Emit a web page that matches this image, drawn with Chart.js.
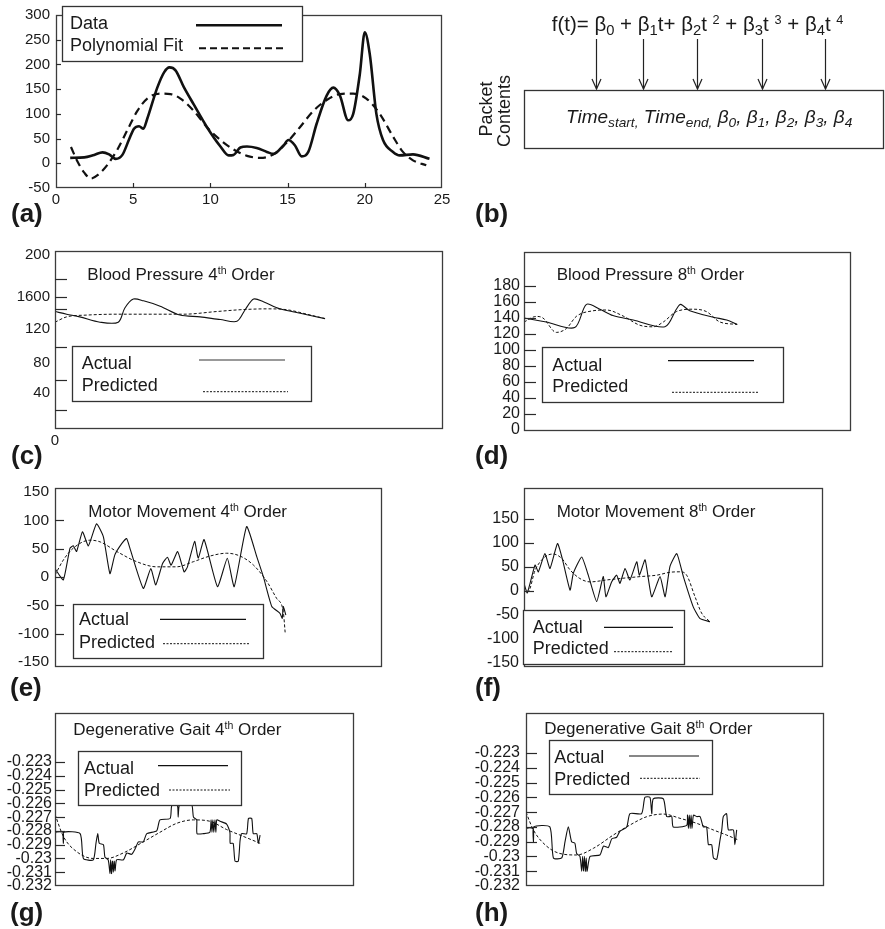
<!DOCTYPE html>
<html><head><meta charset="utf-8">
<script src="https://cdn.jsdelivr.net/npm/chart.js@4.4.1/dist/chart.umd.min.js"></script>
<style>
html,body{margin:0;padding:0;background:#fff;}
#root{position:relative;width:885px;height:929px;overflow:hidden;background:#fff;}
.t{position:absolute;white-space:nowrap;color:#1a1a1a;font-family:'Liberation Sans',Arial,Helvetica,sans-serif;}
.sup{font-size:0.62em;position:relative;top:-0.55em;}
.sub{font-size:0.72em;position:relative;top:0.28em;}
svg{position:absolute;left:0;top:0;}
canvas{position:absolute;}
</style></head><body><div id="root"></div>
<script>
// ---------------- DATA ----------------
// (a) Data vs polynomial fit
const aDataX = [0.92,1.83,2.47,3.01,3.44,3.87,4.3,4.73,5.05,5.38,5.66,5.91,6.56,7.0,7.35,7.74,8.28,8.92,9.78,10.65,11.18,11.5,11.94,12.37,13.0,13.66,14.09,14.73,15.05,15.48,15.91,16.34,16.88,17.53,17.96,18.39,18.92,19.25,19.68,20.0,20.32,20.75,21.18,21.83,22.26,23.12,24.19];
const aDataY = [11,12,17,22,18,9,17,48,70,75,70,90,153,184,194,188,154,119,73,34,16,17,32,34,31,23,19,36,47,36,14,23,80,137,153,137,87,100,181,265,221,100,47,23,16,18,9];
const aFitX = [0.97,1.4,1.83,2.26,2.69,3.33,3.98,4.62,5.27,5.91,6.77,7.42,8.06,8.92,9.78,10.65,11.5,12.37,13.23,14.09,14.95,15.8,16.67,17.53,18.39,19.25,20.1,20.97,21.83,22.47,23.12,23.98];
const aFitY = [33,3,-19,-31,-24,-3,28,67,106,131,141,140,131,106,73,47,28,15,11,18,42,73,106,128,140,141,131,100,54,23,6,-4];
const aXTicks = [0,5,10,15,20,25];
const aYTicks = [-50,0,50,100,150,200,250,300];

// (c) Blood pressure 4th order
const cActX = [0,3,6.4,11.6,16.3,18,20.2,22.8,27.1,32.2,37.4,42.6,46.9,49,51.2,53.7,58,63.2,69.6];
const cActY = [132,129,126,120,120,136,146,144,138,128,126,123,121,134,146,143,135,130,124];
const cPredX = [0,3,8.2,15.9,24.5,33.1,41.7,47.7,54.6,59.8,64.9,69.6];
const cPredY = [120,126,128,129,129,129,132,134,135,134,129,124];
const cYTickLabels = ["200","1600","120","80","40"];
const cYTickAt = [195.5,148.3,112.4,74.2,40.4];
const cXTickLabels = ["0"];
const cXTickAt = [0];

// (d) Blood pressure 8th order
const dActX = [0,6.8,15.5,19.1,23.2,27.2,33.4,43.1,46.6,47.9,50.7,57.9,62,65.2];
const dActY = [140,135,128,157,151,143,137.5,129,151,157,149,141,137.5,132];
const dPredX = [0,3.8,5.8,9.9,13,16,21.1,25.2,30.3,35.4,39.5,42.6,46.6,51.7,55.8,59.9,65.2];
const dPredY = [135,142,140,122,127,142,149,150,142.5,131,129,135,148,151,148,135,132];
const dYTicks = [0,20,40,60,80,100,120,140,160,180];

// (e) Motor movement 4th order
const eActX = [0,2.55,4.59,5.6,6.6,8.4,10.2,12.7,14.8,16.8,18.3,20.4,21.9,22.9,27.0,29.3,30.8,32.9,34.4,35.5,37.5,39.5,40.5,42.7,43.8,45.6,49.7,52.7,54.8,58.6,61.7,63.7,66.3,68.8,69.5,69.8,70.6];
const eActY = [15,-5,51,55,45,80,55,94,71,6,39,59,68,51,-20,15,-14,24,35,21,45,9,18,63,33,66,-17,33,-17,89,36,1,-52,-64,-73,-52,-67];
const ePredX = [0,2.55,5.6,10.7,13.8,18.9,25,31.1,37.2,42.3,47.4,52.5,56.6,60.7,64.8,67.8,69.8,70.4];
const ePredY = [3.5,30,51,65,62,45,27,18,18,27,37,42,37,21,-8,-38,-61,-99];
const eYTicks = [-150,-100,-50,0,50,100,150];

// (f) Motor movement 8th order
const fActX = [0,1.1,3.7,4.8,7.0,8.7,11.2,12.9,15.4,16.5,19.3,21.5,24.3,26.5,27.4,29.3,31.0,32.1,33.8,35.4,37.7,38.6,40.5,42.7,45.5,47.2,48.8,51.1,53.3,56.6,58.8,62.2];
const fActY = [16,-4,54,40,78,47,99,65,2,37,71,33,-22,30,-12,19,33,16,47,23,61,33,65,-12,30,-12,51,78,30,-33,-57,-64];
const fPredX = [0,1.4,3.7,7.0,9.8,12.6,15.4,18.7,22.1,27.6,32.1,38.8,44.4,48.8,52.2,54.4,57.2,59.4,62.2];
const fPredY = [9,-1,43,71,77,68,44,26,19,23,26,30,33,39,40,33,-12,-46,-64];
const fYTicks = [-150,-100,-50,0,50,100,150];

// (g) Degenerative gait 4th order
const gActX = [0,0.3,2.7,2.8,2.9,8.4,9.5,12.8,13.7,14.3,14.8,16.2,16.7,17.8,18.4,18.6,18.9,19.2,19.5,19.8,20.1,20.6,22.9,24.0,25.6,26.8,27.9,29.5,30.7,34.0,35.1,38.5,39.0,40.1,41.0,41.2,41.5,42.4,45.7,46.3,47.4,47.5,49.6,51.8,52.2,52.5,52.8,53.1,53.5,53.8,54.1,55.2,57.4,58.5,58.6,59.6,60.2,61.3,61.9,62.4,64.1,64.7,65.8,66.3,67.5,68.0,68.6];
const gActY = [-0.2289,-0.2281,-0.2281,-0.2289,-0.2281,-0.2282,-0.2300,-0.2301,-0.2289,-0.2282,-0.2289,-0.2290,-0.2299,-0.2301,-0.2311,-0.2301,-0.2311,-0.2302,-0.2310,-0.2302,-0.2309,-0.2301,-0.2301,-0.2296,-0.2297,-0.2293,-0.2288,-0.2288,-0.2282,-0.2280,-0.2272,-0.2271,-0.2262,-0.2261,-0.2262,-0.2270,-0.2262,-0.2261,-0.2261,-0.2270,-0.2272,-0.2282,-0.2282,-0.2281,-0.2272,-0.2281,-0.2272,-0.2281,-0.2272,-0.2281,-0.2272,-0.2273,-0.2275,-0.2281,-0.2289,-0.2289,-0.2302,-0.2302,-0.2287,-0.2282,-0.2282,-0.2271,-0.2271,-0.2282,-0.2282,-0.2289,-0.2283];
const gPredX = [0,2.8,7.2,12.8,17.3,22.85,29.5,35.1,40.7,46.3,51.8,57.4,63,68.6];
const gPredY = [-0.2268,-0.2284,-0.2295,-0.2300,-0.2300,-0.2296,-0.2288,-0.2281,-0.22745,-0.2272,-0.2273,-0.2279,-0.2284,-0.2289];
const gaitTickLabels = ["-0.223","-0.224","-0.225","-0.226","-0.227","-0.228","-0.229","-0.23","-0.231","-0.232"];
const gaitTickAt = [-0.223,-0.224,-0.225,-0.226,-0.227,-0.228,-0.229,-0.230,-0.231,-0.232];

// (h) Degenerative gait 8th order
const hActX = [0,0.2,2.4,2.5,2.6,8.0,9.2,12.0,13.1,14.2,15.3,16.4,17.0,18.1,18.7,19.0,19.3,19.6,19.9,20.2,20.5,21.5,24.8,26.0,27.6,28.8,30.4,31.5,33.8,34.9,38.8,39.9,41.6,42.2,42.7,46.1,47.2,48.9,49.4,53.9,54.2,54.5,54.8,55.1,55.4,55.7,56.2,57.3,58.4,59.5,60.6,61.2,62.3,62.9,64.0,65.1,65.7,66.2,67.3,67.9,69.6,70.1,70.7];
const hActY = [-0.2290,-0.2281,-0.2281,-0.2290,-0.2280,-0.2280,-0.2301,-0.2301,-0.2290,-0.2280,-0.2290,-0.2291,-0.2298,-0.2300,-0.2310,-0.2300,-0.2310,-0.2300,-0.2310,-0.2301,-0.2310,-0.2300,-0.2299,-0.2293,-0.2294,-0.2288,-0.2287,-0.2283,-0.2280,-0.2271,-0.2271,-0.2260,-0.2260,-0.2271,-0.2261,-0.2261,-0.2273,-0.2273,-0.2280,-0.2279,-0.2272,-0.2281,-0.2272,-0.2281,-0.2272,-0.2281,-0.2272,-0.2273,-0.2273,-0.2280,-0.2280,-0.2292,-0.2292,-0.2301,-0.2302,-0.2289,-0.2282,-0.2273,-0.2271,-0.2282,-0.2282,-0.2292,-0.2282];
const hPredX = [0,2.46,6.9,11.4,17,22.6,29.3,34.9,40.5,46.1,51.7,57.3,62.9,67.3,71.3];
const hPredY = [-0.2270,-0.2282,-0.2293,-0.2298,-0.2299,-0.22945,-0.22855,-0.22787,-0.22731,-0.22713,-0.22742,-0.22776,-0.22821,-0.22855,-0.22889];

// ---------------- RENDER ----------------
const FONT = "'Liberation Sans', Arial, Helvetica, sans-serif";
Chart.defaults.font.family = FONT;
const root = document.getElementById('root');

function pts(xs, ys){ return xs.map((x,i)=>({x:x, y:ys[i]})); }
function solid(xs, ys, w, tension, color){
  return {data:pts(xs,ys), showLine:true, borderColor:color||'#111', borderWidth:w, pointRadius:0, tension:tension, fill:false};
}
function smooth(xs, ys, w, dash){
  return {data:pts(xs,ys), showLine:true, borderColor:'#111', borderWidth:w, pointRadius:0, borderDash:dash||[], cubicInterpolationMode:'monotone', fill:false};
}

function panel(p){
  const cv = document.createElement('canvas');
  cv.width = p.w; cv.height = p.h;
  cv.style.left = p.l+'px'; cv.style.top = p.t+'px';
  cv.style.width = p.w+'px'; cv.style.height = p.h+'px';
  root.appendChild(cv);
  const hasX = !!p.xTickLabels;
  const xH = p.t + p.h - p.fy2;
  const frame = {
    id:'frame'+p.id,
    afterDraw(chart){
      const ctx = chart.ctx, a = chart.chartArea;
      ctx.save();
      ctx.strokeStyle = '#3c3c3c'; ctx.lineWidth = 1.3;
      ctx.strokeRect(Math.round(a.left)+0.5, Math.round(a.top)+0.5, Math.round(a.right-a.left)-1, Math.round(a.bottom-a.top)-1);
      ctx.strokeStyle = '#2a2a2a'; ctx.lineWidth = 1.2;
      const ys = chart.scales.y, xs = chart.scales.x;
      (p.yMarks||[]).forEach(v=>{
        const y = Math.round(ys.getPixelForValue(v))+0.5;
        ctx.beginPath(); ctx.moveTo(a.left, y); ctx.lineTo(a.left+p.markLen, y); ctx.stroke();
      });
      (p.xMarks||[]).forEach(v=>{
        const x = Math.round(xs.getPixelForValue(v))+0.5;
        ctx.beginPath(); ctx.moveTo(x, a.bottom); ctx.lineTo(x, a.bottom-p.markLen); ctx.stroke();
      });
      ctx.restore();
    }
  };
  new Chart(cv, {
    type:'scatter',
    data:{datasets:p.datasets},
    options:{
      responsive:false, animation:false, devicePixelRatio:1, events:[],
      layout:{padding:{left:0, top:p.fy1-p.t, right:p.l+p.w-p.fx2, bottom: hasX ? 0 : xH}},
      plugins:{legend:{display:false}, tooltip:{enabled:false}},
      scales:{
        x:{
          type:'linear', min:p.xMin, max:p.xMax, display:hasX,
          grid:{display:false, drawTicks:false}, border:{display:false},
          afterBuildTicks:(s)=>{ if(hasX) s.ticks = p.xTickAt.map(v=>({value:v})); },
          afterFit:(s)=>{ s.height = hasX ? xH : 0; },
          ticks:{autoSkip:false, maxRotation:0, padding:p.xPad||3, color:'#1a1a1a',
                 font:{size:p.fontSize, family:FONT},
                 callback:(v,i)=> hasX ? p.xTickLabels[i] : ''}
        },
        y:{
          type:'linear', min:p.yMin, max:p.yMax,
          grid:{display:false, drawTicks:false}, border:{display:false},
          afterBuildTicks:(s)=>{ s.ticks = p.yTickAt.map(v=>({value:v})); },
          afterFit:(s)=>{ s.width = p.fx1 - p.l; },
          ticks:{autoSkip:false, padding:p.yPad, color:'#1a1a1a',
                 font:{size:p.fontSize, family:FONT},
                 callback:(v,i)=> p.yTickLabels[i]}
        }
      }
    },
    plugins:[frame]
  });
}

panel({id:'a', l:0, t:0, w:460, h:215, fx1:56, fy1:11, fx2:442, fy2:188,
  xMin:0, xMax:25, yMin:-50, yMax:300,
  xTickAt:aXTicks, xTickLabels:aXTicks.map(String), yTickAt:aYTicks, yTickLabels:aYTicks.map(String),
  fontSize:15, yPad:6, xPad:3, yMarks:aYTicks.slice(1,7), xMarks:[5,10,15,20], markLen:5,
  datasets:[smooth(aDataX,aDataY,2.6), smooth(aFitX,aFitY,2.2,[8,5])]});

panel({id:'c', l:0, t:235, w:460, h:215, fx1:55, fy1:251, fx2:443, fy2:429,
  xMin:0, xMax:100, yMin:0, yMax:200,
  xTickAt:cXTickAt, xTickLabels:cXTickLabels, yTickAt:cYTickAt, yTickLabels:cYTickLabels,
  fontSize:15, yPad:5, xPad:3, yMarks:[168.5,148.3,134.8,92.1,55.1,21.3], markLen:12,
  datasets:[solid(cActX,cActY,1.1,0.3), smooth(cPredX,cPredY,1,[3,2])]});

panel({id:'d', l:460, t:235, w:420, h:215, fx1:524, fy1:252, fx2:851, fy2:431,
  xMin:0, xMax:100, yMin:-1.25, yMax:222.5,
  yTickAt:dYTicks, yTickLabels:dYTicks.map(String),
  fontSize:16, yPad:4, yMarks:dYTicks.slice(1), markLen:12,
  datasets:[solid(dActX,dActY,1.1,0.3), smooth(dPredX,dPredY,1,[3,2])]});

panel({id:'e', l:0, t:470, w:460, h:215, fx1:55, fy1:488, fx2:382, fy2:667,
  xMin:0, xMax:100, yMin:-158.8, yMax:157.1,
  yTickAt:eYTicks, yTickLabels:eYTicks.map(String),
  fontSize:15.5, yPad:6, yMarks:[100,50,0,-50,-100], markLen:9,
  datasets:[solid(eActX,eActY,1.1,0.15), smooth(ePredX,ePredY,1,[3,2])]});

panel({id:'f', l:460, t:470, w:420, h:215, fx1:524, fy1:488, fx2:823, fy2:667,
  xMin:0, xMax:100, yMin:-158.3, yMax:214.6,
  yTickAt:fYTicks, yTickLabels:fYTicks.map(String),
  fontSize:16, yPad:5, yMarks:[150,100,50,0,-50,-100], markLen:10,
  datasets:[solid(fActX,fActY,1.1,0.15), smooth(fPredX,fPredY,1,[3,2])]});

panel({id:'g', l:0, t:695, w:460, h:215, fx1:55, fy1:713, fx2:354, fy2:886,
  xMin:0, xMax:100, yMin:-0.232, yMax:-0.21944,
  yTickAt:gaitTickAt, yTickLabels:gaitTickLabels,
  fontSize:16, yPad:3, yMarks:gaitTickAt.slice(0,9), markLen:10,
  datasets:[solid(gActX,gActY,1.1,0.2), smooth(gPredX,gPredY,1,[3,2])]});

panel({id:'h', l:460, t:695, w:420, h:215, fx1:526, fy1:713, fx2:824, fy2:886,
  xMin:0, xMax:100, yMin:-0.232, yMax:-0.22029,
  yTickAt:gaitTickAt, yTickLabels:gaitTickLabels,
  fontSize:16, yPad:6, yMarks:gaitTickAt.slice(0,9), markLen:11,
  datasets:[solid(hActX,hActY,1.1,0.2), smooth(hPredX,hPredY,1,[3,2])]});

// ---------- overlay: legend boxes, sample lines, diagram (b) ----------
const boxes = [[62,6,302,61],[72,346,311,401],[542,347,783,402],[73,604,263,658],[523,610,684,664],[78,751,241,805],[549,740,712,794]];
const solidSamples = [[196,282,25.3,2.5,'#111'],[199,285,360,1.5,'#777'],[668,754,360.7,1.2,'#111'],[160,246,619.3,1.2,'#111'],[604,673,627.3,1.2,'#111'],[158,228,765.7,1.2,'#111'],[629,699,756,1.2,'#111']];
const dashSamples = [[199,283,48.3,2,'7,4'],[203,288,391.7,1,'2,1.5'],[672,758,392.3,1,'2,1.5'],[163,249,643.7,1,'2,1.5'],[614,673,651.7,1,'2,1.5'],[169,230,790,1,'2,1.5'],[640,700,778.3,1,'2,1.5']];
const arrowsX = [596,643,697,762,825];
let svg = '<svg width="885" height="929" xmlns="http://www.w3.org/2000/svg">';
boxes.forEach(b=>{ svg += `<rect x="${b[0]+0.5}" y="${b[1]+0.5}" width="${b[2]-b[0]}" height="${b[3]-b[1]}" fill="#fff" stroke="#333" stroke-width="1.3"/>`; });
solidSamples.forEach(s=>{ svg += `<line x1="${s[0]}" x2="${s[1]}" y1="${s[2]}" y2="${s[2]}" stroke="${s[4]}" stroke-width="${s[3]}"/>`; });
dashSamples.forEach(s=>{ svg += `<line x1="${s[0]}" x2="${s[1]}" y1="${s[2]}" y2="${s[2]}" stroke="#111" stroke-width="${s[3]}" stroke-dasharray="${s[4]}"/>`; });
arrowsX.forEach(x=>{
  svg += `<line x1="${x+0.5}" x2="${x+0.5}" y1="39" y2="89" stroke="#222" stroke-width="1.2"/>`;
  svg += `<polyline points="${x-4},79 ${x+0.5},89 ${x+5},79" fill="none" stroke="#222" stroke-width="1.2"/>`;
});
svg += `<rect x="524.5" y="90.5" width="359" height="58" fill="none" stroke="#333" stroke-width="1.3"/>`;
svg += '</svg>';
const sv = document.createElement('div');
sv.innerHTML = svg;
root.appendChild(sv.firstChild);

function addText(html, x, base, fs, style){
  const d = document.createElement('div');
  d.className = 't';
  d.innerHTML = html;
  d.style.left = x+'px';
  d.style.top = (base - 0.8465*fs)+'px';
  d.style.fontSize = fs+'px';
  d.style.lineHeight = fs+'px';
  if (style) Object.assign(d.style, style);
  root.appendChild(d);
}
function addRot(text, cx, cy, fs){
  const d = document.createElement('div');
  d.className = 't';
  d.textContent = text;
  d.style.fontSize = fs+'px'; d.style.lineHeight = fs+'px';
  d.style.left = cx+'px'; d.style.top = cy+'px';
  d.style.transform = 'translate(-50%,-50%) rotate(-90deg)';
  root.appendChild(d);
}

// legends
addText('Data', 70, 29.3, 18);
addText('Polynomial Fit', 70, 51.7, 18);
[[81.7,369.3,391],[552.3,371,392.7],[79,625.7,648.3],[532.7,633.3,654.3],[84,774,796],[554.3,763.3,785]].forEach(l=>{
  addText('Actual', l[0], l[1], 18);
  addText('Predicted', l[0], l[2], 18);
});
// titles
addText('Blood Pressure 4<span class="sup">th</span> Order', 87.3, 280, 17);
addText('Blood Pressure 8<span class="sup">th</span> Order', 556.7, 280, 17);
addText('Motor Movement 4<span class="sup">th</span> Order', 88.3, 517.3, 17);
addText('Motor Movement 8<span class="sup">th</span> Order', 556.7, 517.3, 17);
addText('Degenerative Gait 4<span class="sup">th</span> Order', 73.3, 735, 17);
addText('Degenerative Gait 8<span class="sup">th</span> Order', 544.3, 734, 17);
// panel letters
const bold = {fontWeight:'bold'};
addText('(a)', 11, 222.5, 26, bold);
addText('(b)', 475, 222.5, 26, bold);
addText('(c)', 11, 464.5, 26, bold);
addText('(d)', 475, 464.5, 26, bold);
addText('(e)', 10, 696.5, 26, bold);
addText('(f)', 475, 696.5, 26, bold);
addText('(g)', 10, 921.5, 26, bold);
addText('(h)', 475, 921.5, 26, bold);
// diagram (b)
addText('f(t)= β<span class="sub">0</span> + β<span class="sub">1</span>t+ β<span class="sub">2</span>t <span class="sup">2</span> + β<span class="sub">3</span>t <span class="sup">3</span> + β<span class="sub">4</span>t <span class="sup">4</span>', 551.7, 31.7, 20.5);
addText('Time<span class="sub">start,</span> Time<span class="sub">end,</span> β<span class="sub">0</span>, β<span class="sub">1</span>, β<span class="sub">2</span>, β<span class="sub">3</span>, β<span class="sub">4</span>', 566, 123.3, 19, {fontStyle:'italic'});
addRot('Packet', 485.5, 108.5, 18);
addRot('Contents', 504, 111, 18);
</script></body></html>
